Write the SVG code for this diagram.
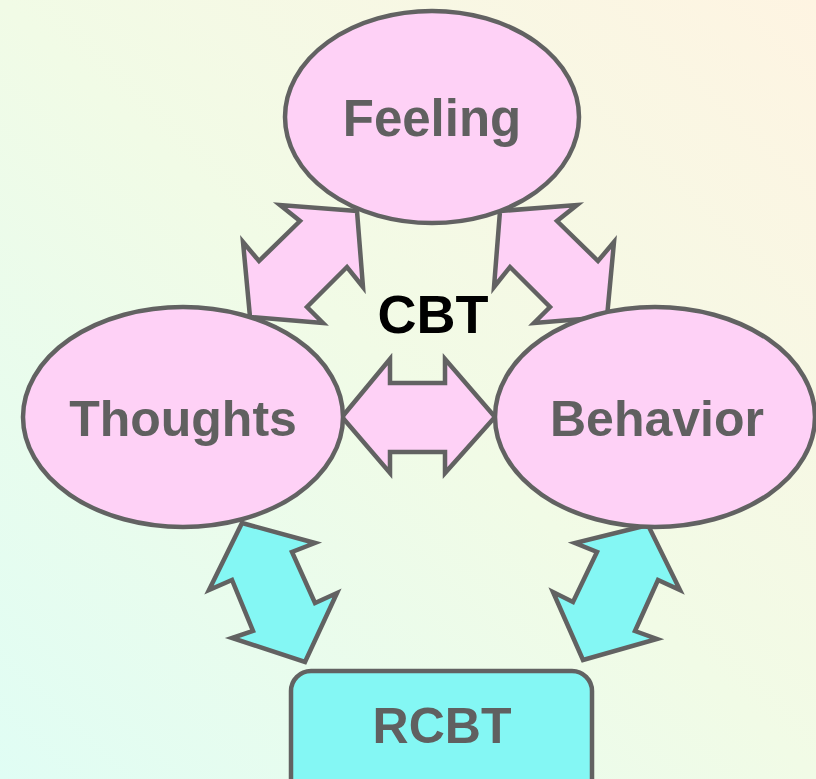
<svg xmlns="http://www.w3.org/2000/svg" width="816" height="779" viewBox="0 0 816 779">
<defs>
<linearGradient id="bg" x1="0" y1="1" x2="1" y2="0">
<stop offset="0" stop-color="#e0fdf4"/>
<stop offset="0.5" stop-color="#f1fbe6"/>
<stop offset="1" stop-color="#fef4e2"/>
</linearGradient>
<style>
.pink{fill:#fed1f6;stroke:#626262;stroke-width:4.5;stroke-linejoin:miter}
.cyan{fill:#84f7f4;stroke:#626262;stroke-width:4.5;stroke-linejoin:miter}
.lbl{font-family:"Liberation Sans",Arial,sans-serif;font-weight:bold;fill:#606060;text-anchor:middle}
.cbt{font-family:"Liberation Sans",Arial,sans-serif;font-weight:bold;fill:#000;text-anchor:middle}
</style>
</defs>
<rect x="0" y="0" width="816" height="779" fill="url(#bg)"/>
<g id="connectors">
<polygon class="pink" points="357,211 280,205 300,221 259,261 243,242 250,317 323,323 307,307 347,267 363,287"/>
<polygon class="pink" points="500,211 577,205 557,221 598,261 614,242 607,317 534,323 550,307 510,267 494,287"/>
<polygon class="pink" points="342,417 390,359 390,383 445,383 445,359 495,417 445,473 445,452 390,452 390,473"/>
<polygon class="cyan" points="242,523 315,543 292,552 315,603 337,593 305,662 232,638 253,631 232,580 209,590"/>
<polygon class="cyan" points="648,525 575,543 597,552 573,602 553,592 583,660 657,639 635,631 658,580 680,590"/>
</g>
<g id="feeling">
<ellipse class="pink" cx="432" cy="117" rx="147" ry="106"/>
<text class="lbl" x="432" y="136" font-size="51">Feeling</text>
</g>
<g id="thoughts">
<ellipse class="pink" cx="183" cy="417" rx="160" ry="110"/>
<text class="lbl" x="183" y="436" font-size="50">Thoughts</text>
</g>
<g id="behavior">
<ellipse class="pink" cx="655" cy="417" rx="160" ry="110"/>
<text class="lbl" x="657" y="436" font-size="50">Behavior</text>
</g>
<g id="cbt">
<text class="cbt" x="433" y="333" font-size="54">CBT</text>
</g>
<g id="rcbt">
<rect class="cyan" x="291" y="671" width="301" height="130" rx="20" ry="20"/>
<text class="lbl" x="442" y="743" font-size="50">RCBT</text>
</g>
</svg>
